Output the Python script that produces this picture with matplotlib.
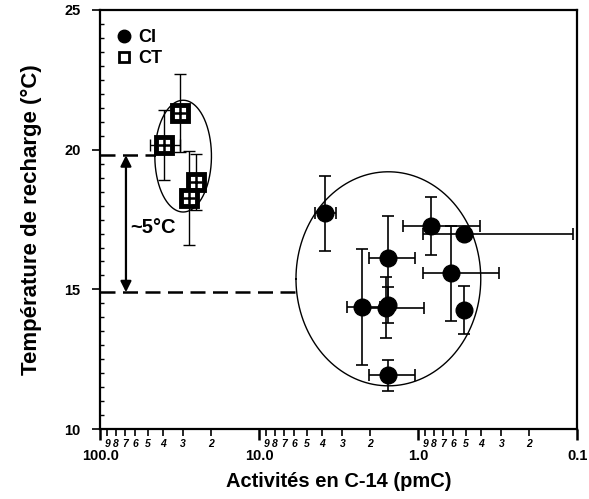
import numpy as np
import matplotlib.pyplot as plt
from matplotlib.lines import Line2D
from matplotlib.ticker import FixedLocator, FixedFormatter, MultipleLocator

plt.rcParams['font.family'] = ['Liberation Sans', 'DejaVu Sans']
plt.rcParams['font.weight'] = 'bold'

# CI samples (filled circles)
ci_x = [3.87, 1.54, 0.83, 0.516, 0.622, 2.27, 1.60, 1.54, 0.516, 1.54]
ci_y = [17.72, 16.11, 17.27, 16.98, 15.58, 14.37, 14.35, 14.45, 14.26, 11.93]
ci_xerr = [0.6, 0.5, 0.42, 0.41, 0.31, 0.54, 0.68, 0.0, 0.0, 0.5]
ci_yerr = [1.33, 1.5, 1.03, 0.0, 1.7, 2.07, 1.1, 0.65, 0.85, 0.55]

# CT samples (squares)
ct_x = [31.6, 39.8, 24.8, 27.8]
ct_y = [21.31, 20.17, 18.84, 18.27]
ct_xerr = [0.0, 8.5, 0.0, 0.0]
ct_yerr = [1.4, 1.24, 1.0, 1.68]

# annotation shapes: (log10 x centre, y centre, half-width in decades, half-height)
ellipse_ct = (1.478, 19.77, 0.178, 2.0)
ellipse_ci = (0.1875, 15.38, 0.581, 3.83)
temp_high = 19.8
temp_low = 14.9
dash_high_end = 45.3
dash_low_end = 5.76
arrow_x = 68.8

major_ticks = [100.0, 10.0, 1.0, 0.1]
major_labels = ['100.0', '10.0', '1.0', '0.1']
minor_digits = [2, 3, 4, 5, 6, 7, 8, 9]

fig = plt.figure(figsize=(5.89, 4.99), dpi=100)
ax = fig.add_axes([0.170, 0.140, 0.810, 0.840])

ax.set_xscale('log')
ax.set_xlim(100, 0.1)
ax.set_ylim(10, 25)

# error bars
ax.errorbar(ci_x, ci_y, xerr=ci_xerr, yerr=ci_yerr, fmt='none', ecolor='black',
            elinewidth=1.2, capsize=4, capthick=1.2, zorder=2)
ax.errorbar(ct_x, ct_y, xerr=ct_xerr, yerr=ct_yerr, fmt='none', ecolor='black',
            elinewidth=1.0, capsize=4, capthick=1.0, zorder=2)

# markers
ax.plot(ci_x, ci_y, 'o', color='black', markersize=12, zorder=4)
ax.plot(ct_x, ct_y, 's', markerfacecolor='white', markeredgecolor='black',
        markeredgewidth=3.5, markersize=12, zorder=4)
ax.plot(ct_x, ct_y, '+', color='black', markersize=8, markeredgewidth=1.8, zorder=5)

# ellipses
t = np.linspace(0, 2 * np.pi, 300)
for cx, cy, a, b in [ellipse_ct, ellipse_ci]:
    ax.plot(10 ** (cx + a * np.cos(t)), cy + b * np.sin(t), color='black', lw=1.0, zorder=3)

# dashed reference lines
ax.plot([100, dash_high_end], [temp_high, temp_high], color='black', lw=1.8,
        dashes=(6, 3), zorder=3)
ax.plot([100, dash_low_end], [temp_low, temp_low], color='black', lw=1.8,
        dashes=(6, 3), zorder=3)

# double arrow
ax.annotate('', xy=(arrow_x, temp_low), xytext=(arrow_x, temp_high),
            arrowprops=dict(arrowstyle='<|-|>', color='black', lw=1.6,
                            mutation_scale=16, shrinkA=0, shrinkB=0))
ax.text(65, 17.2, '~5°C', fontsize=14.5, fontweight='bold', ha='left', va='center')

# axes styling
for s in ax.spines.values():
    s.set_linewidth(1.6)

ax.yaxis.set_major_locator(FixedLocator([10, 15, 20, 25]))
ax.yaxis.set_minor_locator(MultipleLocator(0.5))
ax.tick_params(axis='y', which='major', direction='out', length=6, width=1.2,
               labelsize=10.5, pad=8)
ax.tick_params(axis='y', which='minor', direction='in', length=3, width=1.0)

minor_pos = [d * 10.0 ** k for k in (1, 0, -1) for d in minor_digits]
minor_lab = [str(d) for k in (1, 0, -1) for d in minor_digits]
ax.xaxis.set_major_locator(FixedLocator(major_ticks))
ax.xaxis.set_major_formatter(FixedFormatter(major_labels))
ax.xaxis.set_minor_locator(FixedLocator(minor_pos))
ax.xaxis.set_minor_formatter(FixedFormatter(minor_lab))
ax.tick_params(axis='x', which='major', direction='out', length=8, width=1.8,
               labelsize=10.5, pad=6)
ax.tick_params(axis='x', which='minor', direction='out', length=5, width=1.2,
               labelsize=7.5, pad=2)
for lab in ax.xaxis.get_minorticklabels():
    lab.set_fontstyle('italic')

ax.set_xlabel('Activités en C-14 (pmC)', fontsize=14.5, fontweight='bold', labelpad=7)
ax.set_ylabel('Température de recharge (°C)', fontsize=16, fontweight='bold', labelpad=16)

handles = [
    Line2D([], [], marker='o', color='black', linestyle='none', markersize=9),
    Line2D([], [], marker='s', markerfacecolor='white', markeredgecolor='black',
           markeredgewidth=2, linestyle='none', markersize=7),
]
ax.legend(handles, ['CI', 'CT'], loc='upper left', bbox_to_anchor=(0.0, 0.985),
          frameon=False, fontsize=13, handletextpad=0.2, labelspacing=0.25,
          handlelength=1.2, borderaxespad=0.3)

fig.savefig('out.png', dpi=100)
